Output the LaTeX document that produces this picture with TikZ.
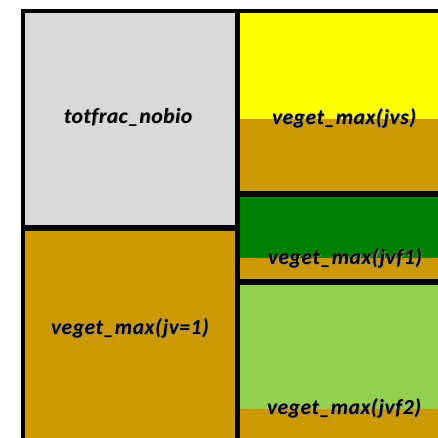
\documentclass[tikz,border=0pt]{standalone}
\usepackage{fontspec}
\setmainfont[Ligatures={NoCommon}]{Carlito}
\newfontfamily\lblfont[Ligatures={NoCommon},LetterSpace=2.5]{Carlito}
\definecolor{boxgray}{HTML}{D9D9D9}
\definecolor{boxyellow}{HTML}{FFFF00}
\definecolor{boxbrown}{HTML}{CC9900}
\definecolor{boxgreen}{HTML}{008000}
\definecolor{boxlight}{HTML}{92D050}
\tikzset{
  frame/.style={draw=black, line width=4pt},
  lbl/.style={font=\lblfont\fontsize{21.5}{24}\selectfont\bfseries\itshape, inner sep=0pt, text=black},
  shade/.style={lbl, text=black!45, xshift=0.9pt, yshift=-0.9pt}
}
\begin{document}
\begin{tikzpicture}[x=1pt,y=-1pt]
\useasboundingbox (0,0) rectangle (438,438);
\clip (0,0) rectangle (438,438);
% left column
\fill[boxgray] (23,11.5) rectangle (237,227);
\draw[frame] (23,11.5) rectangle (237,227);
\fill[boxbrown] (23,229) rectangle (237,460);
\draw[frame] (23,229) rectangle (237,460);
% jvs
\fill[boxyellow] (238,11.5) rectangle (460,119);
\fill[boxbrown] (238,119) rectangle (460,193);
\draw[frame] (238,11.5) rectangle (460,193);
% jvf1
\fill[boxgreen] (238,195) rectangle (460,258);
\fill[boxbrown] (238,258) rectangle (460,281);
\draw[frame] (238,195) rectangle (460,281);
% jvf2
\fill[boxlight] (238,283) rectangle (460,409);
\fill[boxbrown] (238,409) rectangle (460,460);
\draw[frame] (238,283) rectangle (460,460);
% label shadows
\node[shade] (nobioS) at (128,117) {totfrac\_nobio};
\node[shade] (jvsS) at (344,118) {veget\_max(jvs)};
\node[shade] (jvf1S) at (345,258) {veget\_max(jvf1)};
\node[shade] (jv1S) at (130,328) {veget\_max(jv=1)};
\node[shade] (jvf2S) at (344,408) {veget\_max(jvf2)};
% labels
\node[lbl] (nobio) at (128,117) {totfrac\_nobio};
\node[lbl] (jvs) at (344,118) {veget\_max(jvs)};
\node[lbl] (jvf1) at (345,258) {veget\_max(jvf1)};
\node[lbl] (jv1) at (130,328) {veget\_max(jv=1)};
\node[lbl] (jvf2) at (344,408) {veget\_max(jvf2)};
\end{tikzpicture}
\end{document}
